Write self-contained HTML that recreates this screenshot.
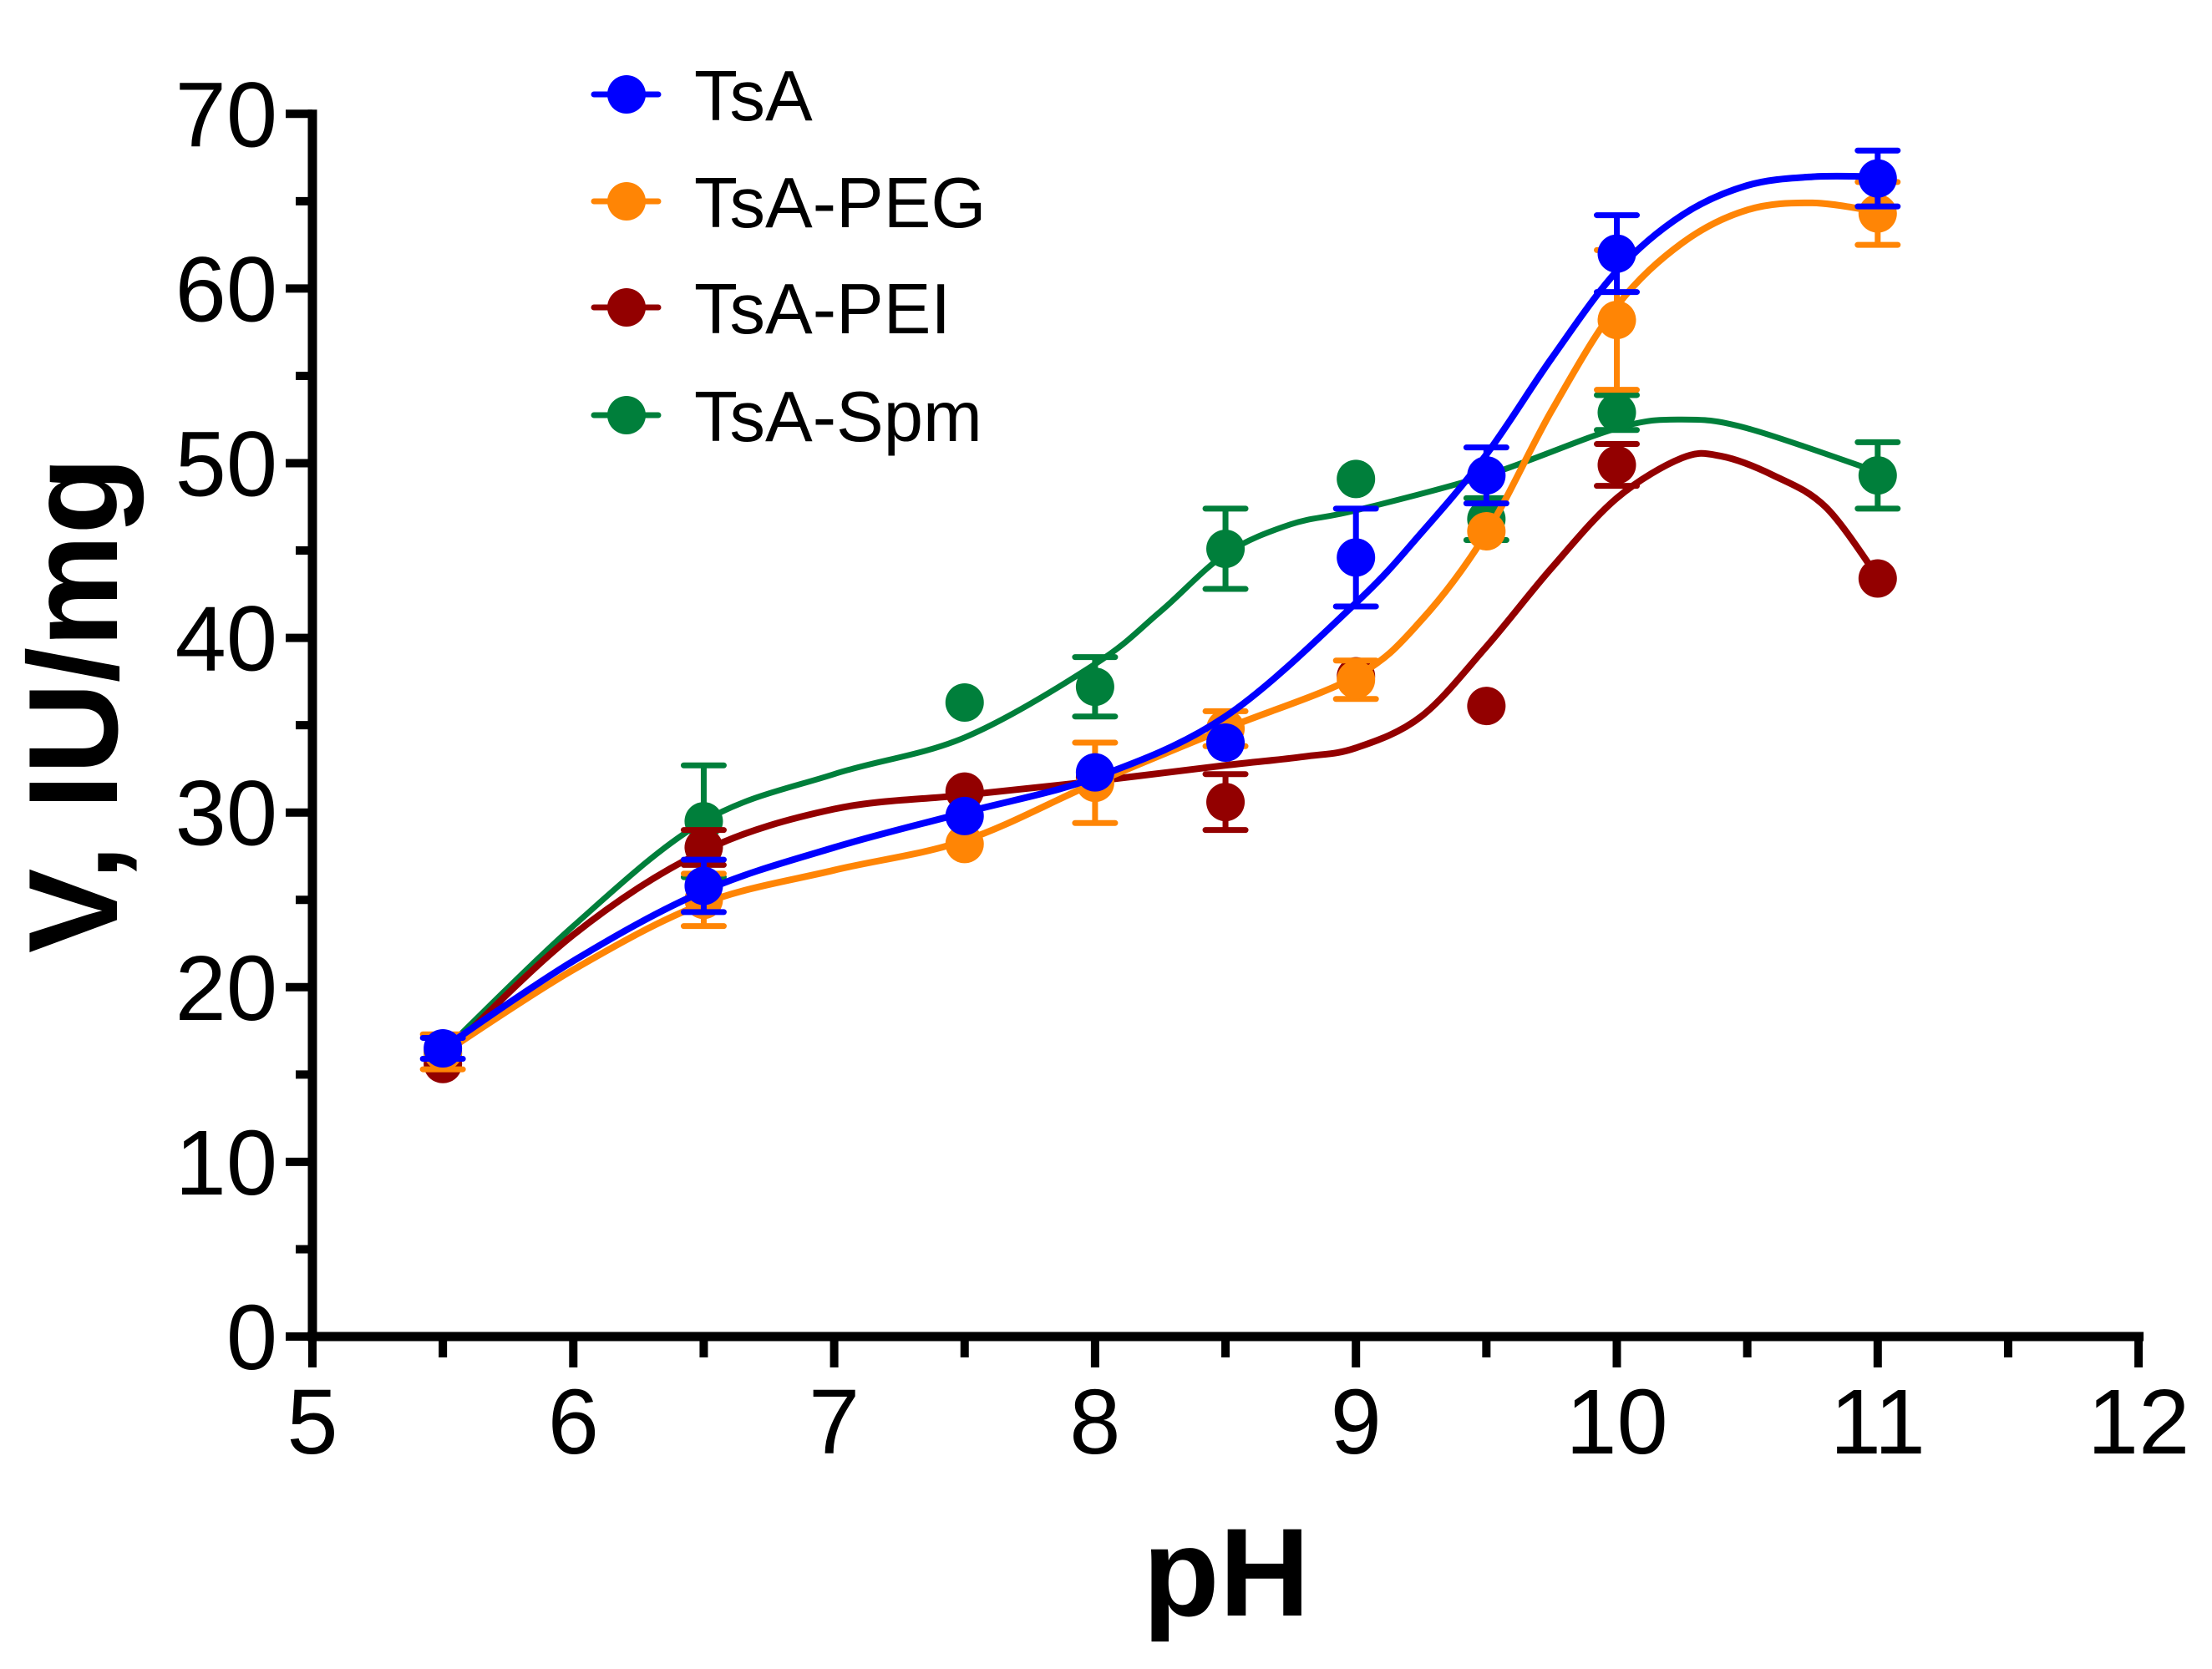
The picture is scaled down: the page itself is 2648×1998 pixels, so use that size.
<!DOCTYPE html>
<html><head><meta charset="utf-8"><style>
html,body{margin:0;padding:0;background:#fff;}
svg{display:block;font-family:"Liberation Sans",Arial,sans-serif;}
</style></head><body>
<svg id="chart" width="2648" height="1998" viewBox="0 0 2648 1998" xmlns="http://www.w3.org/2000/svg"></svg>
<script>
const xTicks = [5,6,7,8,9,10,11,12];
const yTicks = [0,10,20,30,40,50,60,70];
const seriesNames = ["TsA","TsA-PEG","TsA-PEI","TsA-Spm"];
const seriesColors = ["#0000ff","#ff8505","#930000","#007f3b"];
const phPoints = [5.5,6.5,7.5,8,8.5,9,9.5,10,11];
const tsaVals = [16.5,25.8,29.8,32.3,34.0,44.6,49.3,62.0,66.3];
const tsaErr  = [0.6,1.5,0,0,0,2.8,1.6,2.2,1.6];
const pegVals = [16.3,25.0,28.2,31.7,34.8,37.6,46.1,58.2,64.3];
const pegErr  = [1.0,1.5,0,2.3,1.0,1.1,0,4.0,1.8];
const peiVals = [15.6,28.0,31.2,32.0,30.6,37.8,36.1,49.9,43.4];
const peiErr  = [0,1.0,0,0,1.6,0,0,1.2,0];
const spmVals = [16.2,29.5,36.3,37.2,45.1,49.1,46.8,52.9,49.3];
const spmErr  = [0,3.2,0,1.7,2.3,0,1.2,1.0,1.9];
const tsaFitX = [5.5,6,6.5,7,7.5,8,8.5,9,9.25,9.5,9.75,10,10.25,10.5,10.75,11];
const tsaFitY = [16.5,21.5,25.5,28,30,32,35.5,42,46,50.5,56,61,64.2,65.9,66.4,66.4];
const pegFitX = [5.5,6,6.5,7,7.5,8,8.5,9,9.25,9.5,9.75,10,10.25,10.5,10.75,11];
const pegFitY = [16.2,21,24.8,26.7,28.4,31.7,34.8,37.8,41,46,53,59,62.6,64.5,64.9,64.4];
const peiFitX = [5.5,6,6.5,7,7.5,8,8.5,8.8,9,9.25,9.5,9.75,10,10.25,10.4,10.6,10.8,11];
const peiFitY = [16,23,27.8,30.2,31,31.8,32.7,33.2,33.7,35.5,39.5,44,48,50.3,50.4,49.3,47.5,43.5];
const spmFitX = [5.5,6,6.5,7,7.5,8,8.25,8.5,8.75,9,9.5,10,10.25,10.5,11];
const spmFitY = [16.3,23.5,29.5,32.2,34.3,38.5,41.5,44.8,46.5,47.3,49.3,52,52.5,52,49.5];

const svg = document.getElementById('chart');
const NS = "http://www.w3.org/2000/svg";
const X0 = 374, XU = 312.3, Y0 = 1600, YU = 20.91;
function sx(v){return X0 + (v-5)*XU;}
function sy(v){return Y0 - v*YU;}
function mk(tag, attrs, parent){const e=document.createElementNS(NS,tag);for(const k in attrs)e.setAttribute(k,attrs[k]);(parent||svg).appendChild(e);return e;}
function smoothPath(p){
  let d='M'+p[0][0].toFixed(1)+','+p[0][1].toFixed(1);
  for(let i=0;i<p.length-1;i++){
    const p0=p[i>0?i-1:i],p1=p[i],p2=p[i+1],p3=p[i+2<p.length?i+2:i+1];
    const c1x=p1[0]+(p2[0]-p0[0])/6,c1y=p1[1]+(p2[1]-p0[1])/6;
    const c2x=p2[0]-(p3[0]-p1[0])/6,c2y=p2[1]-(p3[1]-p1[1])/6;
    d+=`C${c1x.toFixed(1)},${c1y.toFixed(1)} ${c2x.toFixed(1)},${c2y.toFixed(1)} ${p2[0].toFixed(1)},${p2[1].toFixed(1)}`;
  }
  return d;
}

const axes = mk('g',{});


const xAxis = mk('line',{x1:sx(5)-6,y1:Y0,x2:sx(12)+6,y2:Y0,stroke:'#000','stroke-width':11},axes);


const yAxis = mk('line',{x1:X0,y1:Y0+5,x2:X0,y2:sy(70)-5,stroke:'#000','stroke-width':11},axes);


for(let i=0;i<xTicks.length;i++){
  const v=xTicks[i];
  const t=mk('line',{x1:sx(v),y1:Y0,x2:sx(v),y2:Y0+37,stroke:'#000','stroke-width':10},axes);
  
  
  if(i<xTicks.length-1){
    const m=mk('line',{x1:sx(v+0.5),y1:Y0,x2:sx(v+0.5),y2:Y0+25,stroke:'#000','stroke-width':10},axes);
    
    
  }
  const l=mk('text',{x:sx(v),y:1740,'font-size':110,'text-anchor':'middle',fill:'#000'},axes);
  l.textContent=v;
  
  
}
for(let i=0;i<yTicks.length;i++){
  const v=yTicks[i];
  const t=mk('line',{x1:X0-32,y1:sy(v),x2:X0,y2:sy(v),stroke:'#000','stroke-width':10},axes);
  
  
  if(i<yTicks.length-1){
    const m=mk('line',{x1:X0-20,y1:sy(v+5),x2:X0,y2:sy(v+5),stroke:'#000','stroke-width':10},axes);
    
    
  }
  const l=mk('text',{x:332,y:sy(v)+39,'font-size':110,'text-anchor':'end',fill:'#000'},axes);
  l.textContent=v;
  
  
}
const xt=mk('text',{x:1468,y:1934,'font-size':150,'font-weight':'bold','text-anchor':'middle',fill:'#000'});
xt.textContent='pH';


const yt=mk('text',{x:0,y:0,'font-size':152,'font-weight':'bold','text-anchor':'middle',fill:'#000',transform:'translate(140,844) rotate(-90)'});
yt.textContent='V, IU/mg';



const vals=[tsaVals,pegVals,peiVals,spmVals];
const errs=[tsaErr,pegErr,peiErr,spmErr];
const fitX=[tsaFitX,pegFitX,peiFitX,spmFitX];
const fitY=[tsaFitY,pegFitY,peiFitY,spmFitY];
const widths=[8,8,8,7];
const order=[3,2,1,0];
for(const s of order){
  const g=mk('g',{});
  
  
  const pts=fitX[s].map((x,i)=>[sx(x),sy(fitY[s][i])]);
  const pl=mk('path',{d:smoothPath(pts),fill:'none',stroke:seriesColors[s],'stroke-width':widths[s],'stroke-linejoin':'round'},g);
  
  
  for(let i=0;i<phPoints.length;i++){
    const cx=sx(phPoints[i]), v=vals[s][i], e=errs[s][i];
    if(e>0){
      const eb=mk('path',{d:`M${cx},${sy(v+e)}V${sy(v-e)}M${cx-24},${sy(v+e)}H${cx+24}M${cx-24},${sy(v-e)}H${cx+24}`,stroke:seriesColors[s],'stroke-width':7,'stroke-linecap':'round',fill:'none'},g);
      
      
    }
    const c=mk('circle',{cx:cx,cy:sy(v),r:23,fill:seriesColors[s]},g);
    
    
  }
}
const legY=[113,241,368,497];
const leg=mk('g',{});


for(let s=0;s<4;s++){
  const e=mk('g',{},leg);
  
  
  mk('line',{x1:711,y1:legY[s],x2:788,y2:legY[s],stroke:seriesColors[s],'stroke-width':7,'stroke-linecap':'round'},e);
  mk('circle',{cx:750,cy:legY[s],r:23,fill:seriesColors[s]},e);
  const t=mk('text',{x:831,y:legY[s]+31,'font-size':85,fill:'#000'},e);
  t.textContent=seriesNames[s];
}
</script>
</body></html>
